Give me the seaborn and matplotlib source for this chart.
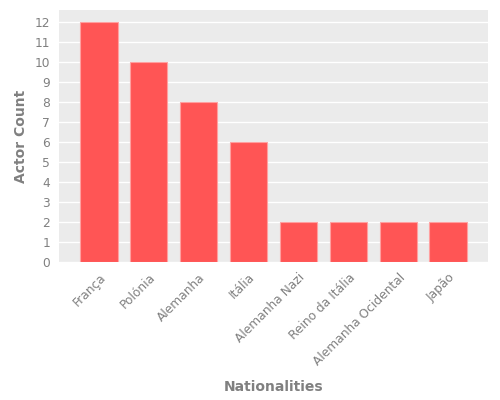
import matplotlib
matplotlib.use("Agg")
import matplotlib.pyplot as plt
import seaborn as sns
import pandas as pd

# dados
nacionalidades = ["França", "Polónia", "Alemanha", "Itália", "Alemanha Nazi",
                  "Reino da Itália", "Alemanha Ocidental", "Japão"]
contagem = [12, 10, 8, 6, 2, 2, 2, 2]

df = pd.DataFrame({"Nationalities": nacionalidades, "Actor Count": contagem})

sns.set_style("darkgrid", {"axes.facecolor": "#EBEBEB", "grid.color": "white"})
plt.rcParams['font.family'] = ['DejaVu Sans']

fig, ax = plt.subplots(figsize=(5, 4), dpi=100)
fig.subplots_adjust(left=0.118, right=0.976, top=0.975, bottom=0.345)

sns.barplot(data=df, x="Nationalities", y="Actor Count", color="#FF5555",
            saturation=1, width=0.75, edgecolor="#FFA0A0", linewidth=0.8, ax=ax)

ax.set_xlim(-0.8, 7.8)
ax.set_ylim(0, 12.6)
ax.set_yticks(range(0, 13))
ax.xaxis.grid(False)
ax.yaxis.grid(True, color="white", linewidth=1)
ax.set_axisbelow(True)
for s in ax.spines.values():
    s.set_visible(False)

ax.tick_params(axis="both", colors="#999999", labelsize=8.8, length=3, width=0.6,
               labelcolor="#808080")
plt.setp(ax.get_xticklabels(), rotation=45, ha="right", rotation_mode="anchor")

ax.set_xlabel("Nationalities", fontsize=10, fontweight="bold", color="#808080", labelpad=9)
ax.set_ylabel("Actor Count", fontsize=10, fontweight="bold", color="#808080", labelpad=5)

fig.savefig("out.png", dpi=100)
